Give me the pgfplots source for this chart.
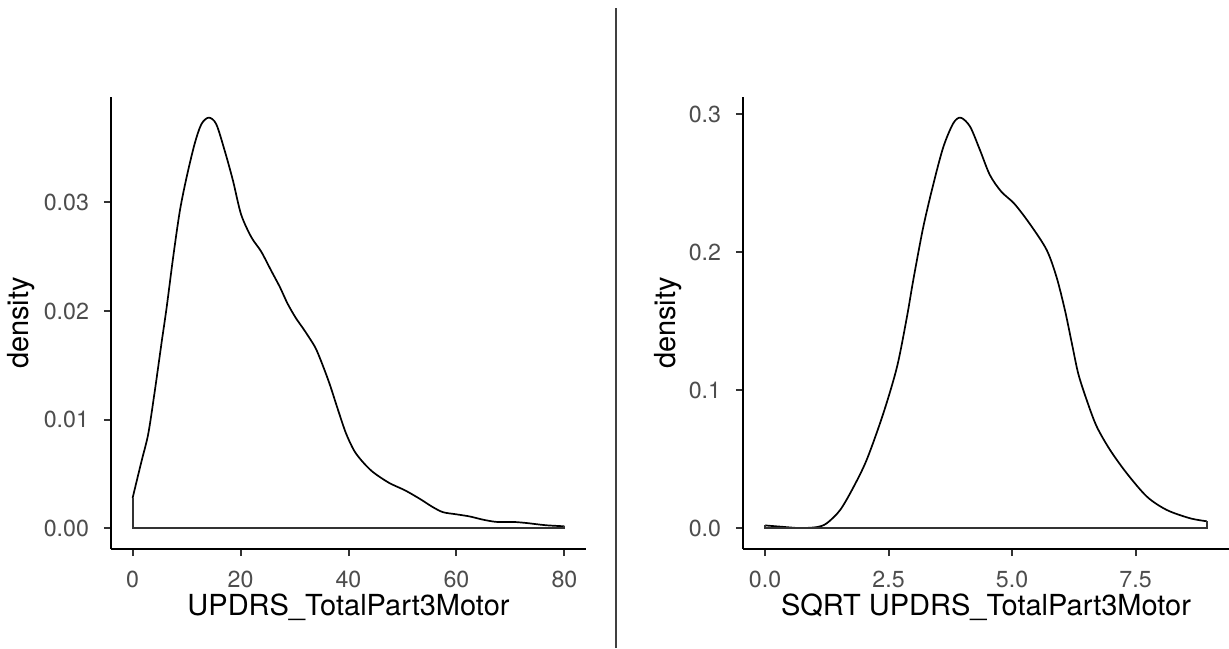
\documentclass[border=0pt]{standalone}
\usepackage{fontspec}
\setmainfont{TeX Gyre Heros}
\usepackage{pgfplots}
\pgfplotsset{compat=1.18}

\definecolor{tickgrey}{RGB}{77,77,77}
\definecolor{tickline}{RGB}{51,51,51}

% one panel in ggplot2's theme_classic look
\pgfplotsset{
  densitypanel/.style={
    scale only axis,
    axis lines=left,
    axis line style={-, line width=1pt, black},
    tick align=outside,
    major tick length=3.6pt,
    every tick/.style={line width=1pt, tickline},
    scaled ticks=false,
    tick label style={font=\fontsize{11.6}{13}\selectfont, text=tickgrey},
    xticklabel style={anchor=base, yshift=-15.5pt, inner sep=0pt},
    yticklabel style={anchor=east, xshift=-7.2pt, inner sep=0pt},
    every axis x label/.style={at={(rel axis cs:0.5,0)}, yshift=-33pt, anchor=base,
      font=\fontsize{14.5}{17}\selectfont},
    ylabel={density},
    clip=false,
  },
  dens/.style={line width=0.85pt, black, smooth, tension=0.5, no marks},
  edge/.style={line width=1pt, black!80, no marks},
}

\begin{document}
\begin{tikzpicture}
\useasboundingbox (0,0) rectangle (614.5pt,324pt);

% left panel: raw score
\begin{axis}[densitypanel,
  at={(55.5pt,49.5pt)}, anchor=south west,
  width=237.5pt, height=226pt,
  xmin=-4, xmax=84, ymin=-0.00189, ymax=0.0397,
  xtick={0,20,40,60,80}, xticklabels={0,20,40,60,80},
  ytick={0,0.01,0.02,0.03}, yticklabels={0.00,0.01,0.02,0.03},
  xlabel={UPDRS\_TotalPart3Motor},
  every axis y label/.style={at={(rel axis cs:0,0.5)}, xshift=-41pt, rotate=90, anchor=base,
    font=\fontsize{14.5}{17}\selectfont},
]
\addplot[dens] coordinates {
  (0,0.0028) (1.66,0.0062) (2.9,0.0087) (4.1,0.0126) (5.4,0.0172)
  (6.3,0.0203) (7.5,0.0249) (8.75,0.0292) (10,0.0323) (11.5,0.0354)
  (12.75,0.0372) (14.1,0.0378) (15.5,0.0372) (17.1,0.0347) (18.6,0.0320)
  (20.1,0.0289) (22,0.0268) (23.8,0.0255) (25.7,0.0237) (27.3,0.0222)
  (28.7,0.0207) (30.2,0.0194) (31.6,0.0184) (32.8,0.0175) (33.9,0.0166)
  (35,0.0153) (36.5,0.0133) (38,0.0110) (39.5,0.0088) (41,0.0072)
  (42.5,0.0062) (44.5,0.0052) (47.5,0.0042) (50.5,0.0035) (53.3,0.0027)
  (55.5,0.0020) (57.5,0.0015) (60,0.0013) (62.5,0.0011) (65,0.0008)
  (67.5,0.0006) (70.5,0.0006) (73,0.0005) (76.5,0.0003) (80,0.0002)
};
\addplot[edge] coordinates {(80,0.0002) (80,0) (0,0) (0,0.0028)};
\end{axis}

% right panel: square-root score
\begin{axis}[densitypanel,
  at={(371.5pt,49.5pt)}, anchor=south west,
  width=243pt, height=226pt,
  xmin=-0.447, xmax=9.391, ymin=-0.01488, ymax=0.3125,
  xtick={0,2.5,5,7.5}, xticklabels={0.0,2.5,5.0,7.5},
  ytick={0,0.1,0.2,0.3}, yticklabels={0.0,0.1,0.2,0.3},
  xlabel={SQRT UPDRS\_TotalPart3Motor},
  every axis y label/.style={at={(rel axis cs:0,0.5)}, xshift=-33.6pt, rotate=90, anchor=base,
    font=\fontsize{14.5}{17}\selectfont},
]
\addplot[dens] coordinates {
  (0,0.0022) (0.35,0.0012) (0.7,0.0003) (1.05,0.0010) (1.25,0.0038)
  (1.52,0.0134) (1.79,0.030) (2.06,0.050) (2.39,0.083) (2.67,0.117)
  (2.87,0.153) (3.0,0.180) (3.2,0.218) (3.41,0.250) (3.61,0.2765)
  (3.81,0.2935) (3.96,0.2975) (4.15,0.291) (4.35,0.274) (4.55,0.256)
  (4.78,0.244) (5.05,0.235) (5.37,0.220) (5.70,0.2017) (5.90,0.182)
  (6.07,0.158) (6.21,0.134) (6.34,0.112) (6.51,0.093) (6.71,0.074)
  (6.98,0.057) (7.32,0.040) (7.73,0.023) (8.13,0.0134) (8.6,0.0074)
  (8.94,0.0052)
};
\addplot[edge] coordinates {(8.94,0.0052) (8.94,0) (0,0) (0,0.0022)};
\end{axis}

% divider between the two panels
\draw[line width=0.6pt, black!75] (308pt,0) -- (308pt,320pt);
\end{tikzpicture}
\end{document}
